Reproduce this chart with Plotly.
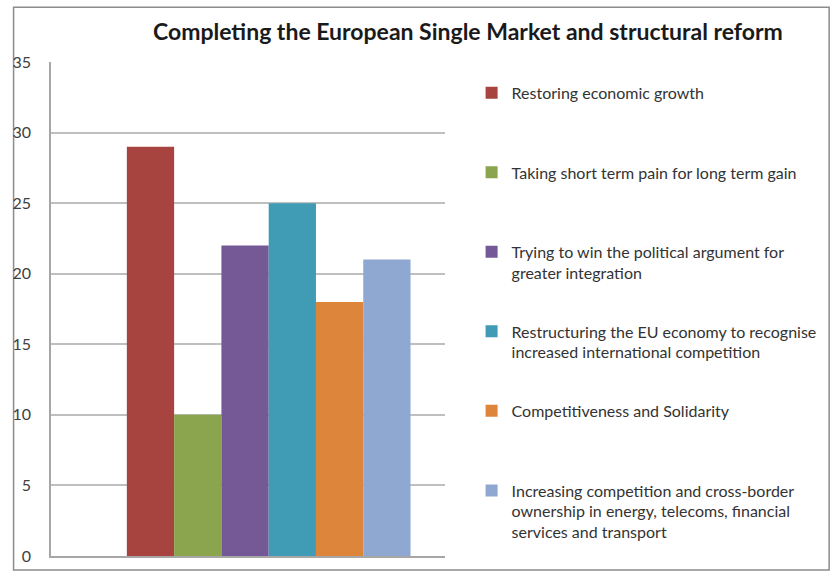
import plotly.graph_objects as go

# Survey responses for the single category shown
categories = [""]
series_names = [
    "Restoring economic growth",
    "Taking short term pain for long term gain",
    "Trying to win the political argument for<br>greater integration",
    "Restructuring the EU economy to recognise<br>increased international competition",
    "Competitiveness and Solidarity",
    "Increasing competition and cross-border<br>ownership in energy, telecoms, financial<br>services and transport",
]
series_values = [29, 10, 22, 25, 18, 21]
series_colors = ["#A84440", "#8AA54E", "#755996", "#409BB4", "#DE853C", "#8EA8D2"]
y_ticks = [0, 5, 10, 15, 20, 25, 30, 35]

# top edge (paper units) of each legend entry, evenly spaced down the right side
legend_tops = [0.9718, 0.8109, 0.6499, 0.4890, 0.3280, 0.1670]

FONT = "Lato"

fig = go.Figure()
legend_layouts = {}
for i, (name, val, col, top) in enumerate(zip(series_names, series_values, series_colors, legend_tops)):
    key = "legend" if i == 0 else f"legend{i + 1}"
    fig.add_trace(go.Bar(
        x=categories, y=[val], name=name, marker=dict(color=col, line=dict(width=0)),
        legend=key,
    ))
    legend_layouts[key] = dict(
        x=1.0675, xanchor="left", y=top, yanchor="top", valign="top",
        font=dict(family=FONT, size=16, color="#333333"),
        bgcolor="rgba(0,0,0,0)",
    )

fig.update_layout(
    width=837, height=577,
    margin=dict(l=45, r=392, t=62, b=18),
    paper_bgcolor="white", plot_bgcolor="white",
    barmode="group", bargap=0.28, bargroupgap=0,
    font=dict(family=FONT, color="#404040", size=16),
    title=dict(
        text="<b>Completing the European Single Market and structural reform</b>",
        x=0.559, xanchor="center", y=0.9445, yanchor="middle",
        font=dict(family=FONT, size=23, color="#1a1a1a"),
    ),
    showlegend=True,
    xaxis=dict(
        type="category", range=[-0.5525, 0.4475], showticklabels=False,
        showgrid=False, zeroline=False, showline=True, linecolor="#A6A6A6", linewidth=1.5,
    ),
    yaxis=dict(
        range=[0, 35], tickvals=y_ticks, showgrid=True, gridcolor="#BFBFBF", gridwidth=1.5,
        zeroline=False, showline=True, linecolor="#A6A6A6", linewidth=1.5,
        ticklabelstandoff=15, tickfont=dict(family=FONT, size=16, color="#404040"),
    ),
    shapes=[dict(
        type="rect", xref="paper", yref="paper",
        x0=-0.095, x1=1.975, y0=-0.0282, y1=1.1107,
        line=dict(color="#8C8C8C", width=1.5), fillcolor="rgba(0,0,0,0)", layer="below",
    )],
    **legend_layouts,
)

fig.write_html("out.html")
